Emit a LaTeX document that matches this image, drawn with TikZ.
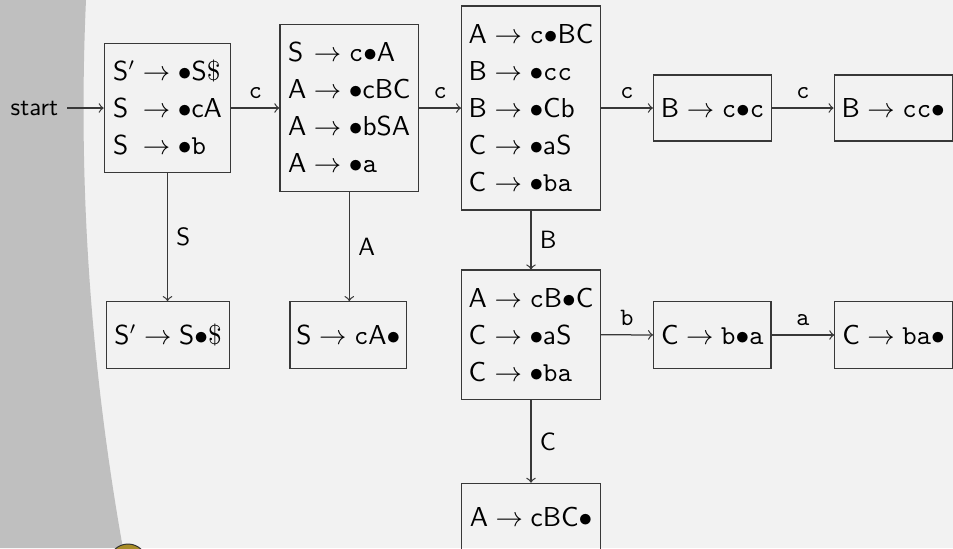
\documentclass[tikz,border=0pt]{standalone}
\usetikzlibrary{arrows}
\definecolor{sidegray}{gray}{0.75}
\definecolor{pagegray}{gray}{0.95}
\definecolor{linegray}{gray}{0.22}
\definecolor{crestgold}{rgb}{0.66,0.55,0.15}
\renewcommand{\arraystretch}{1.1635}
\newcommand\itdot{\mathord{\bullet}}
\newcommand\mysf[1]{\mathsf{#1}}
\newcommand\mytt[1]{\mathtt{#1}}
\newcommand\prow[2]{$\mathsf{#1}$ & ${}\rightarrow{}$ & $#2$}
\newcommand\itembox[1]{\raisebox{-0.8pt}[\height][\depth]{\begin{tabular}{@{}l@{}c@{}l@{}}#1\end{tabular}}}
\begin{document}
\begin{tikzpicture}[x=0.4pt,y=-0.4pt,
  box/.style={draw=linegray, line width=0.5pt, inner sep=0pt, font=\sffamily\fontsize{10.6}{12.72}\selectfont, anchor=center},
  edge/.style={->, draw=linegray, line width=0.5pt},
  lbl/.style={font=\sffamily, inner sep=3.33pt}]
\useasboundingbox (0,0) rectangle (953,548);
\fill[pagegray] (0,0) rectangle (953,548);
\fill[sidegray] (0,0) -- (86,0) .. controls (77.7,182.7) and (90.4,365.3) .. (122.9,548) -- (0,548) -- cycle;
\begin{scope}
\clip (0,0) rectangle (953,548);
\fill[crestgold, draw=black!80, line width=0.4pt] (128,563) circle (19);
\end{scope}

\node[box, minimum width=50.56pt, minimum height=51.76pt] (I0) at (167.5,108)
  {\itembox{\prow{S'}{\itdot\mysf{S}\$}\\ \prow{S}{\itdot\mysf{cA}}\\ \prow{S}{\itdot\mytt{b}}}};
\node[box, minimum width=55.48pt, minimum height=66.64pt] (I1) at (349.3,108)
  {\itembox{\prow{S}{\mytt{c}\itdot\mysf{A}}\\ \prow{A}{\itdot\mysf{cBC}}\\ \prow{A}{\itdot\mysf{bSA}}\\ \prow{A}{\itdot\mytt{a}}}};
\node[box, minimum width=55.44pt, minimum height=81.6pt] (I2) at (531,108)
  {\itembox{\prow{A}{\mytt{c}\itdot\mysf{BC}}\\ \prow{B}{\itdot\mytt{cc}}\\ \prow{B}{\itdot\mysf{Cb}}\\ \prow{C}{\itdot\mysf{aS}}\\ \prow{C}{\itdot\mytt{ba}}}};
\node[box, minimum width=47.28pt, minimum height=26.4pt] (I3) at (712.6,108)
  {\itembox{\prow{B}{\mytt{c}\itdot\mytt{c}}}};
\node[box, minimum width=47.2pt, minimum height=26.4pt] (I4) at (893.2,108)
  {\itembox{\prow{B}{\mytt{cc}\itdot}}};
\node[box, minimum width=55.44pt, minimum height=51.72pt] (I5) at (531,334.7)
  {\itembox{\prow{A}{\mytt{c}\mysf{B}\itdot\mysf{C}}\\ \prow{C}{\itdot\mysf{aS}}\\ \prow{C}{\itdot\mytt{ba}}}};
\node[box, minimum width=46.92pt, minimum height=26.64pt] (I6) at (712.3,335)
  {\itembox{\prow{C}{\mytt{b}\itdot\mytt{a}}}};
\node[box, minimum width=46.92pt, minimum height=26.64pt] (I7) at (893.5,335)
  {\itembox{\prow{C}{\mytt{ba}\itdot}}};
\node[box, minimum width=49.04pt, minimum height=26.64pt] (I8) at (168,335)
  {\itembox{\prow{S'}{\mysf{S}\itdot\$}}};
\node[box, minimum width=46.68pt, minimum height=26.64pt] (I9) at (348.3,335)
  {\itembox{\prow{S}{\mytt{c}\mysf{A}\itdot}}};
\node[box, minimum width=55.6pt, minimum height=26.68pt] (I10) at (531,516.7)
  {\itembox{\prow{A}{\mysf{cBC}\itdot}}};

\node[lbl, anchor=east] (start) at (67,108) {start};

\draw[edge] (start.east) -- (I0.west);
\draw[edge] (I0) -- node[lbl, above] {\ttfamily c} (I1);
\draw[edge] (I1) -- node[lbl, above] {\ttfamily c} (I2);
\draw[edge] (I2) -- node[lbl, above] {\ttfamily c} (I3);
\draw[edge] (I3) -- node[lbl, above] {\ttfamily c} (I4);
\draw[edge] (I5) -- node[lbl, above] {\ttfamily b} (I6);
\draw[edge] (I6) -- node[lbl, above] {\ttfamily a} (I7);
\draw[edge] (I0.south) -- node[lbl, right] {S} (I0.south |- I8.north);
\draw[edge] (I1.south) -- node[lbl, right] {A} (I1.south |- I9.north);
\draw[edge] (I2) -- node[lbl, right] {B} (I5);
\draw[edge] (I5) -- node[lbl, right] {C} (I10);
\end{tikzpicture}
\end{document}
